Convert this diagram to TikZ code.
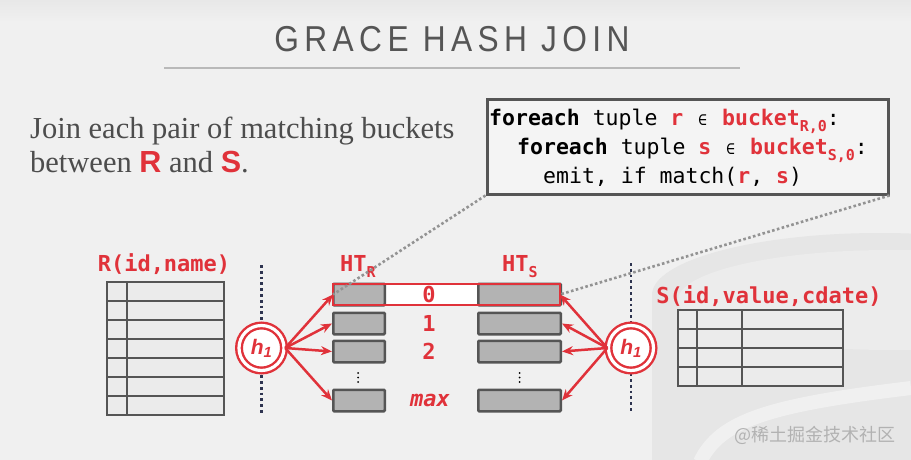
\documentclass[tikz,border=0pt]{standalone}
\usepackage{fontspec}
\setmainfont{Liberation Serif}
\newfontfamily\codefont{DejaVu Sans Mono}
\newfontfamily\headfont[LetterSpace=17]{Liberation Sans}
\newfontfamily\keyfont{Liberation Sans}
\newfontfamily\cjkfont{Noto Sans CJK SC}
\usetikzlibrary{arrows.meta}

\definecolor{bgc}{HTML}{F0F0F0}
\definecolor{wmgray}{HTML}{E6E6E6}
\definecolor{dbred}{HTML}{E0323A}
\definecolor{ink}{HTML}{555555}
\definecolor{txtgray}{HTML}{4D4D4D}
\definecolor{bktgray}{HTML}{B3B3B3}
\definecolor{tabfill}{HTML}{EBEBEB}
\definecolor{codebg}{HTML}{F4F4F4}
\definecolor{navy}{HTML}{2E3450}

\newcommand\lowsub[1]{\raisebox{-6pt}{\fontsize{15}{15}\selectfont#1}}
\newcommand\elem{\makebox[12.9pt]{\fontsize{15}{15}\selectfont ∈}}

\tikzset{
  redlbl/.style={text=dbred, inner sep=0pt, font=\codefont\bfseries\fontsize{22}{22}\selectfont},
  codeln/.style={anchor=base west, inner sep=0pt, text=black, font=\codefont\fontsize{21.5}{21.5}\selectfont},
  bucket/.style={draw=ink, fill=bktgray, line width=2.5pt, rounded corners=1pt, minimum height=21.5pt, inner sep=0pt},
  hashfn/.style={circle, draw=dbred, fill=white, double=white, double distance=3.2pt, line width=2.4pt,
    minimum size=45pt, inner sep=0pt, text=dbred, font=\keyfont\bfseries\itshape\fontsize{21}{21}\selectfont},
  feed/.style={draw=dbred, line width=2.5pt, -{Stealth[length=11pt,width=9pt]}},
  sep/.style={navy, line width=2.8pt, dash pattern=on 2.8pt off 3pt},
  callout/.style={draw=gray!85, line width=2.6pt, dash pattern=on 2.6pt off 2.4pt},
  tabline/.style={draw=ink, line width=2.7pt},
}

\begin{document}
\begin{tikzpicture}[x=1pt, y=-1pt]
   \useasboundingbox (0,0) rectangle (911,460);
   \fill[bgc] (0,0) rectangle (911,460);
   \shade[top color=black!9, bottom color=bgc] (0,0) rectangle (911,22);
   % faint cylinder in the back
   \begin{scope}
     \clip (0,0) rectangle (911,460);
     \fill[wmgray] (652,295) -- (652,460) -- (911,460) -- (911,295) -- cycle;
     \fill[wmgray] (880,295) ellipse [x radius=228, y radius=62];
     \fill[bgc!60!wmgray] (890,300) ellipse [x radius=212, y radius=50];
     \draw[bgc, line width=14pt] (700,462) .. controls (720,420) and (770,405) .. (911,388);
   \end{scope}

   % title
   \node[anchor=base, text=ink, font=\headfont\fontsize{36}{36}\selectfont] (title) at (452,52)
     {\scalebox{.88}[1]{GRACE HASH JOIN}};
   \draw[line width=2.5pt, gray!55] (164,68) -- (740,68);

   \node[anchor=base west, inner sep=0pt, text=txtgray, font=\fontsize{30.5}{34}\selectfont] (intro1) at (30,138)
     {Join each pair of matching buckets};
   \node[anchor=base west, inner sep=0pt, text=txtgray, font=\fontsize{30.5}{34}\selectfont] (intro2) at (30,172)
     {between {\keyfont\bfseries\color{dbred}R} and {\keyfont\bfseries\color{dbred}S}.};

   % code box
   \node[draw=ink, fill=codebg, line width=3pt, minimum width=401pt, minimum height=94pt,
     inner sep=0pt, anchor=north west] (code) at (485.5,98.5) {};
   \node[codeln] (code1) at (489,125) {\bfseries foreach\mdseries{} tuple
     {\color{dbred}\bfseries r} \elem{} {\color{dbred}\bfseries bucket\lowsub{R,0}}:};
   \node[codeln] (code2) at (517,154) {\bfseries foreach\mdseries{} tuple
     {\color{dbred}\bfseries s} \elem{} {\color{dbred}\bfseries bucket\lowsub{S,0}}:};
   \node[codeln] (code3) at (543,183) {emit, if match({\color{dbred}\bfseries r}, {\color{dbred}\bfseries s})};

   % relations
   \filldraw[tabline, fill=tabfill] (107,282) rectangle (224,415);
   \foreach \i in {1,...,6} \draw[tabline] (107,{282+19*\i}) -- (224,{282+19*\i});
   \draw[tabline] (127,282) -- (127,415);
   \filldraw[tabline, fill=tabfill] (678,310) rectangle (843,386);
   \foreach \i in {1,2,3} \draw[tabline] (678,{310+19*\i}) -- (843,{310+19*\i});
   \foreach \x in {697,742} \draw[tabline] (\x,310) -- (\x,386);
   \node[redlbl, anchor=base] (Rlbl) at (164,271) {R(id,name)};
   \node[redlbl, anchor=base] (Slbl) at (769,303) {S(id,value,cdate)};

   \draw[sep] (261.5,265) -- (261.5,413);
   \draw[sep] (631,263) -- (631,413);
   \node[hashfn] (hL) at (261.5,348) {h\textsubscript{1}};
   \node[hashfn] (hR) at (631,348) {h\textsubscript{1}};

   % hash tables
   \node[redlbl, anchor=base west] (htR) at (340,271) {HT\lowsub{R}};
   \node[redlbl, anchor=base west] (htS) at (502,271) {HT\lowsub{S}};
   \node[fill=white, minimum width=226.5pt, minimum height=20.5pt, inner sep=0pt] (row0) at (446.5,294.5) {};
   \foreach \r/\y in {0/294.5, 1/323.5, 2/351.5, m/400.5} {
     \node[bucket, minimum width=51.5pt] (bR\r) at (359,\y) {};
     \node[bucket, minimum width=82.5pt] (bS\r) at (519.5,\y) {};
   }
   \draw[dbred, line width=2.6pt] (row0.north west) rectangle (row0.south east);
   \foreach \r/\y in {0/294.5, 1/323.5, 2/351.5}
     \node[redlbl] (n\r) at (429,\y) {\r};
   \node[redlbl, font=\codefont\bfseries\itshape\fontsize{22}{22}\selectfont] (nm) at (430,400.5) {max};
   \foreach \x in {358,519.5}
     \foreach \y in {373,377.5,382} \fill[black] (\x,\y) circle (1pt);

   \draw[feed] (hL.east) -- (row0.west);
   \draw[feed] (hR.west) -- (row0.east);
   \foreach \r in {1,2,m} {
     \draw[feed] (hL.east) -- (bR\r.west);
     \draw[feed] (hR.west) -- (bS\r.east);
   }
   \draw[callout] (code.south west) -- (row0.west);
   \draw[callout] (code.south east) -- (row0.east);

   \node[text=gray!60, font=\cjkfont\fontsize{18}{18}\selectfont] (wm) at (815,435) {@稀土掘金技术社区};
\end{tikzpicture}
\end{document}
